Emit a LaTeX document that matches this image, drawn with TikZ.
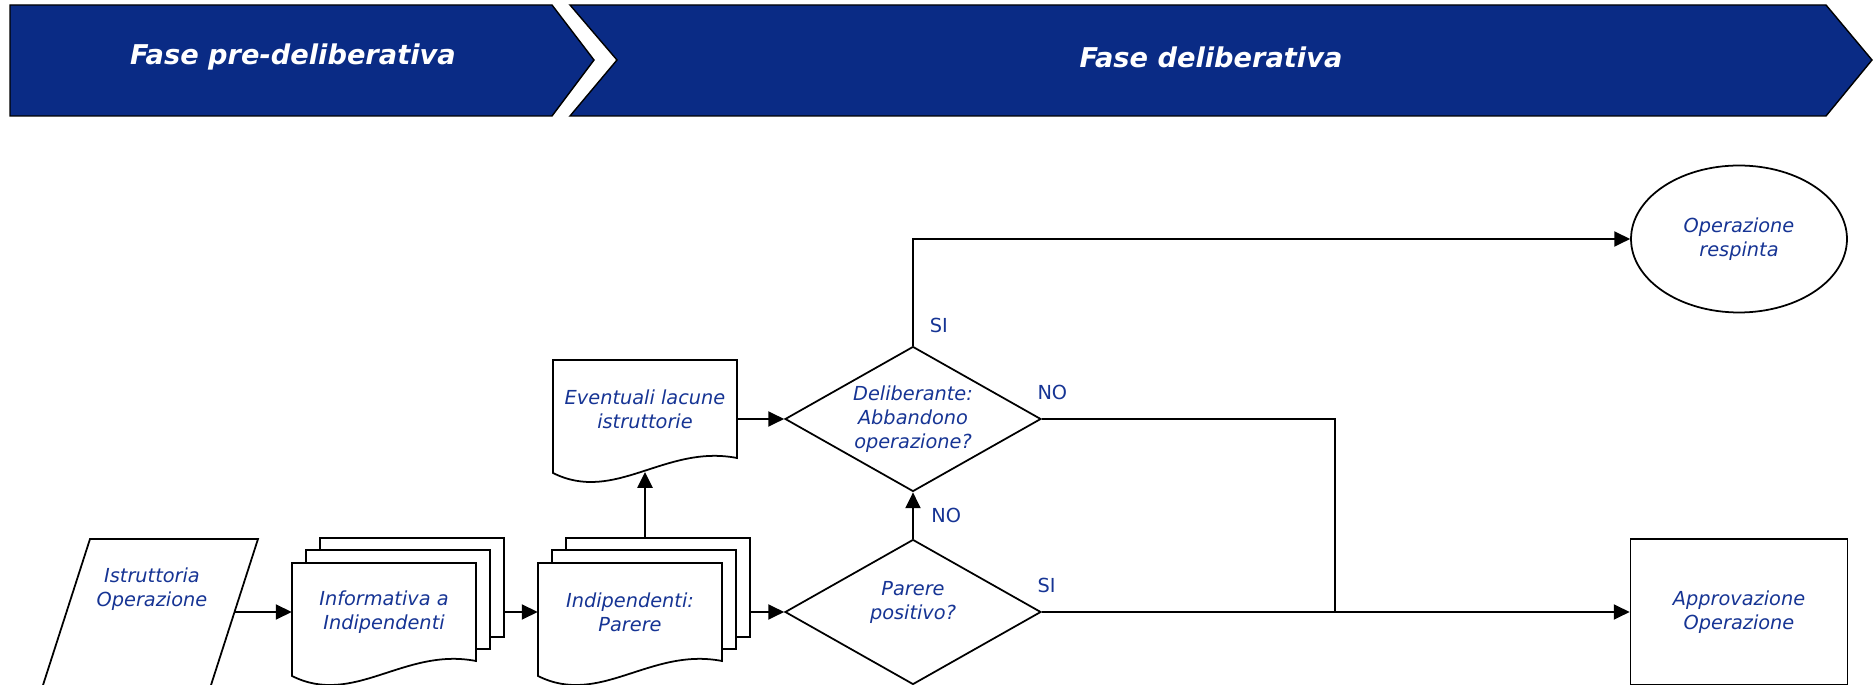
\documentclass[tikz,border=0pt]{standalone}
\usepackage{fontspec}
\setmainfont{DejaVu Sans}
\usetikzlibrary{shapes,positioning,arrows,calc}
\usetikzlibrary{arrows.meta, positioning}

\definecolor{phaseblue}{RGB}{10,43,133}
\definecolor{textblue}{RGB}{22,52,148}

\begin{document}
\begin{tikzpicture}[
    x=0.02cm, y=-0.02cm,
    phase/.style={fill=phaseblue, draw=black, line width=0.8pt},
    phasetext/.style={text=white, font=\fontsize{15.5}{18}\selectfont\bfseries\itshape},
    flowtext/.style={text=textblue, font=\fontsize{11}{13.6}\selectfont\itshape, align=center},
    box/.style={flowtext, draw, line width=1pt, fill=white},
    decision/.style={box, diamond, aspect=1.77, inner sep=0pt, minimum width=5.12cm, minimum height=2.9cm},
    doctext/.style={flowtext, minimum width=3.68cm, minimum height=1.96cm},
    sheetline/.style={draw, fill=white, line width=1pt},
    arrow/.style={-{Triangle[length=9pt, width=8.5pt]}, line width=1.3pt},
    link/.style={line width=1.3pt},
    answer/.style={text=textblue, font=\fontsize{11}{13.6}\selectfont},
    sheet/.pic={
        \path[sheetline] (-92,-49) -- (92,-49) -- (92,49) .. controls (20,35) and (-30,95) .. (-92,64) -- cycle;
        \coordinate (-wave) at (0,63);
    },
    stack/.pic={
        \path[sheetline] (-64,-74) rectangle (120,25);
        \path[sheetline] (-78,-62) rectangle (106,37);
        \path[sheetline] (-92,-49) -- (92,-49) -- (92,49) .. controls (20,35) and (-30,95) .. (-92,64) -- cycle;
        \coordinate (-out) at (120,0);
        \coordinate (-top) at (15,-74);
    }
]

\useasboundingbox (0,0) rectangle (1874,685);
\clip (0,0) rectangle (1874,685);

% Phase banners
\filldraw[phase] (10,5) -- (552,5) -- (594,60) -- (552,116) -- (10,116) -- cycle;
\filldraw[phase] (570,5) -- (1826,5) -- (1872,60) -- (1826,116) -- (570,116) -- (617,60) -- cycle;
\node[phasetext] (prephase) at (293,57) {Fase pre-deliberativa};
\node[phasetext] (delphase) at (1211,57) {Fase deliberativa};

% Input and documents
\path[sheetline] (90,539) -- (258,539) -- (204.6,705) -- (36.6,705) -- cycle;
\node[flowtext] (istr) at (152,589) {Istruttoria\\Operazione};
\coordinate (istrout) at (234.5,612);

\pic (infstack) at (384,612) {stack};
\node[doctext] (inf) at (384,612) {Informativa a\\Indipendenti};

\pic (indstack) at (630,612) {stack};
\node[doctext] (ind) at (630,612) {Indipendenti:\\Parere};

\pic (lacsheet) at (645,409) {sheet};
\node[doctext] (lac) at (645,409) {Eventuali lacune\\istruttorie};

% Decisions and outcomes
\node[decision, label={[flowtext, yshift=5.5pt]center:Parere\\positivo?}] (parere) at (913,612) {};
\node[decision] (delib) at (913,419) {Deliberante:\\Abbandono\\operazione?};
\node[box, ellipse, minimum width=4.32cm, minimum height=2.94cm] (resp) at (1739,239) {Operazione\\respinta};
\node[box, minimum width=4.34cm, minimum height=2.92cm] (appr) at (1739,612) {Approvazione\\Operazione};
\coordinate (merge) at (1335,612);

% Connectors
\draw[arrow] (istrout) -- (inf.west);
\draw[arrow] (infstack-out) -- (ind.west);
\draw[arrow] (indstack-out) -- (parere.west);
\draw[arrow] (indstack-top) -- (lacsheet-wave);
\draw[arrow] (lac.east |- delib.west) -- (delib.west);
\draw[arrow] (parere.north) -- (delib.south) node[answer, midway, right=6.5pt] (nomid) {NO};
\draw[arrow] (delib.north) |- (resp.west);
\draw[link] (delib.east) -| (merge);
\draw[arrow] (parere.east) -- (appr.west);

% Answers
\node[answer, anchor=south west, xshift=6pt, yshift=3.7pt] (sitop) at (delib.north) {SI};
\node[answer, anchor=south west, xshift=-6pt, yshift=7.5pt] (noright) at (delib.east) {NO};
\node[answer, anchor=south west, xshift=-6pt, yshift=7.5pt] (siright) at (parere.east) {SI};

\end{tikzpicture}
\end{document}
